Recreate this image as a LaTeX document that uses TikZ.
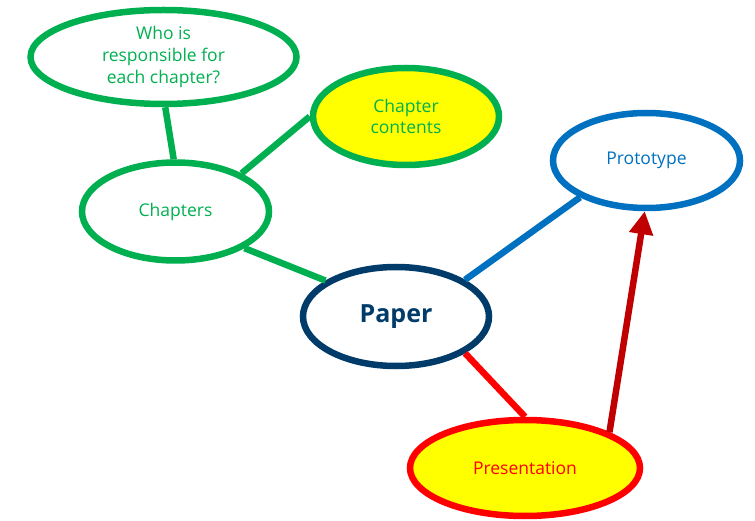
\documentclass[tikz,border=0pt]{standalone}
\usepackage{fontspec}
\setmainfont{Open Sans}
\usetikzlibrary{shapes.geometric,arrows.meta}
\definecolor{cgreen}{RGB}{0,176,80}
\definecolor{cblue}{RGB}{0,112,192}
\definecolor{cnavy}{RGB}{0,59,105}
\definecolor{cred}{RGB}{255,0,0}
\definecolor{cdred}{RGB}{192,0,0}
\definecolor{cyellow}{RGB}{255,255,0}
\tikzset{
  bubble/.style={ellipse, line width=6.5pt, inner sep=0pt, align=center,
    font=\fontsize{17.5}{21.7}\selectfont},
  link/.style={line width=6.5pt},
}
\begin{document}
\begin{tikzpicture}[x=1pt,y=-1pt]
\useasboundingbox (0,0) rectangle (755,521);
\node[bubble, draw=cgreen, text=cgreen, minimum width=266pt, minimum height=94pt] (who) at (163.5,57) {Who is\\responsible for\\each chapter?};
\node[bubble, draw=cgreen, fill=cyellow, text=cgreen, minimum width=186pt, minimum height=97pt] (contents) at (406,116.5) {Chapter\\contents};
\node[bubble, draw=cgreen, text=cgreen, minimum width=187pt, minimum height=98pt] (chapters) at (175.5,211.5) {Chapters};
\node[bubble, draw=cnavy, text=cnavy, minimum width=186pt, minimum height=99pt, font=\fontsize{25}{28}\selectfont\bfseries] (paper) at (396,316.5) {Paper};
\node[bubble, draw=cblue, text=cblue, minimum width=187pt, minimum height=95pt] (proto) at (646.5,160.5) {Prototype};
\node[bubble, draw=cred, fill=cyellow, text=cred, minimum width=230pt, minimum height=96pt] (pres) at (525,468) {Presentation};
\draw[link, draw=cgreen] (who.-88) -- (chapters.92);
\draw[link, draw=cgreen] (chapters.30) -- (contents.180);
\draw[link, draw=cgreen] (chapters.-28) -- (paper.153);
\draw[link, draw=cblue] (paper.28) -- (proto.-151);
\draw[link, draw=cred] (paper.-28) -- (pres.90);
\draw[link, draw=cdred, -{Triangle[length=23pt,width=23pt]}] (pres.23) -- (proto.-92);
\end{tikzpicture}
\end{document}
